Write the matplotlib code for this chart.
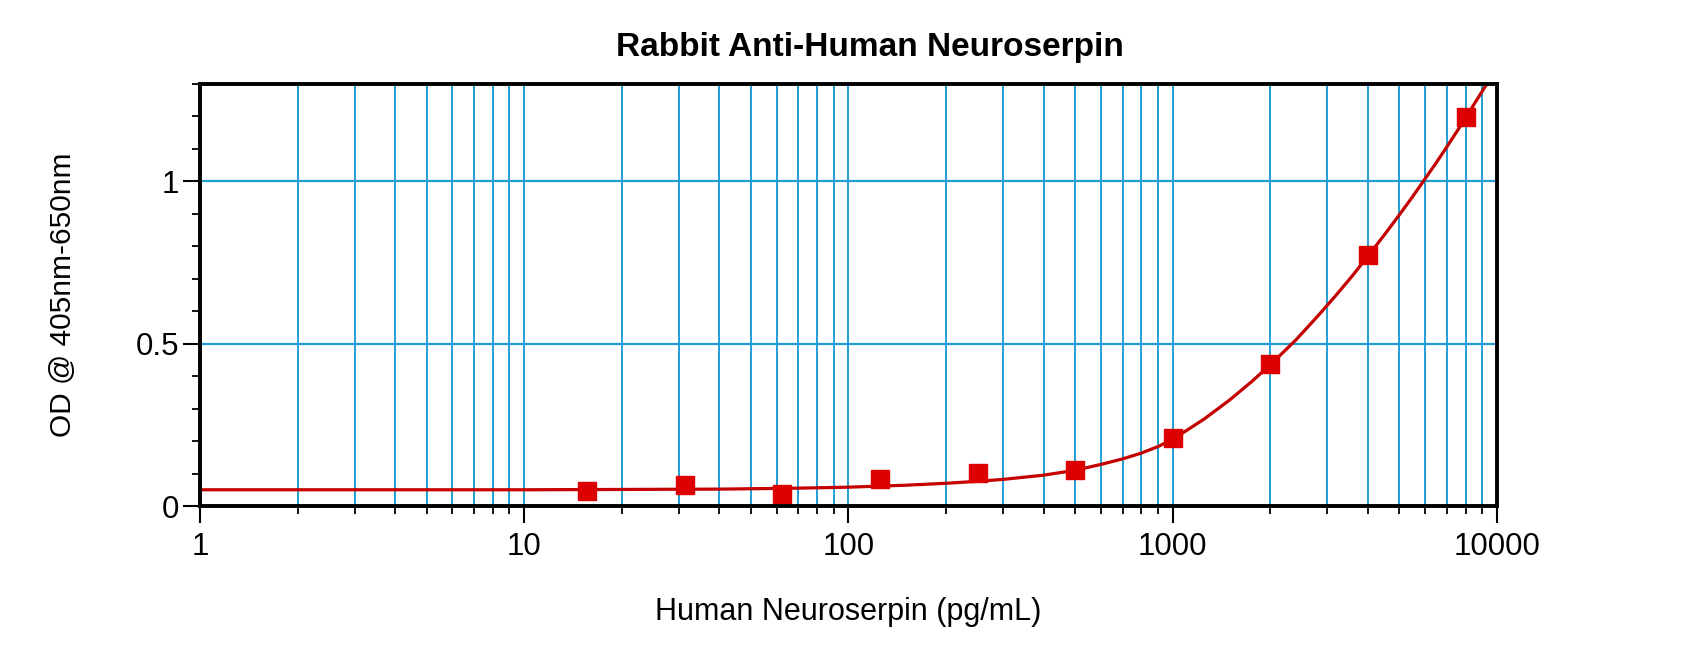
import matplotlib
matplotlib.use("Agg")
import matplotlib.pyplot as plt
from matplotlib.ticker import FixedLocator, MultipleLocator

plt.rcParams['font.family'] = ['Liberation Sans', 'DejaVu Sans']

# standards (pg/mL) and measured OD
conc = [15.625, 31.25, 62.5, 125, 250, 500, 1000, 2000, 4000, 8000]
od = [0.047, 0.065, 0.038, 0.082, 0.103, 0.11, 0.208, 0.437, 0.772, 1.198]

# fitted curve
curve_x = [1, 10, 20, 40, 70, 100, 150, 200, 250, 300, 400, 500, 600, 700,
           800, 900, 1000, 1250, 1500, 1750, 2000, 2400, 2800, 3200, 3600,
           4000, 4500, 5000, 5500, 6000, 6500, 7000, 7500, 8000, 8600, 9300]
curve_y = [0.05, 0.05, 0.051, 0.052, 0.055, 0.058, 0.064, 0.07, 0.076, 0.082,
           0.095, 0.11, 0.128, 0.145, 0.163, 0.183, 0.205, 0.268, 0.327,
           0.383, 0.435, 0.512, 0.585, 0.651, 0.712, 0.77, 0.836, 0.897,
           0.954, 1.008, 1.058, 1.106, 1.152, 1.195, 1.246, 1.30]

x_ticks = [1, 10, 100, 1000, 10000]
x_tick_labels = ['1', '10', '100', '1000', '10000']
y_ticks = [0, 0.5, 1]
y_tick_labels = ['0', '0.5', '1']

fig = plt.figure(figsize=(17, 6.45), dpi=100)
ax = fig.add_axes([0.1176, 0.2155, 0.763, 0.6543])

grid_color = '#1f9fd3'
ax.set_xscale('log')
ax.set_xlim(1, 10000)
ax.set_ylim(0, 1.3)

ax.plot(curve_x, curve_y, color='#c40000', lw=2.3, zorder=3)
ax.plot(conc, od, linestyle='none', marker='s', markersize=13,
        color='#dd0000', zorder=4)

ax.xaxis.set_major_locator(FixedLocator(x_ticks))
ax.set_xticklabels(x_tick_labels)
minor_x = [m * d for d in [1, 10, 100, 1000] for m in range(2, 10)]
ax.xaxis.set_minor_locator(FixedLocator(minor_x))
ax.xaxis.set_minor_formatter(plt.NullFormatter())
ax.set_yticks(y_ticks)
ax.set_yticklabels(y_tick_labels)
ax.yaxis.set_minor_locator(MultipleLocator(0.1))

ax.xaxis.grid(True, which='both', color=grid_color, lw=1.4)
ax.yaxis.grid(True, which='major', color=grid_color, lw=1.6)
ax.set_axisbelow(True)

for s in ax.spines.values():
    s.set_linewidth(2.8)
    s.set_color('black')
    s.set_zorder(5)

ax.tick_params(which='major', length=12, width=1.5, labelsize=22.5,
               top=False, right=False)
ax.tick_params(axis='x', which='major', pad=7)
ax.tick_params(axis='y', which='major', pad=3)
ax.tick_params(which='minor', length=6, width=1.3, top=False, right=False)

ax.set_xlabel('Human Neuroserpin (pg/mL)', fontsize=22, labelpad=25)
ax.set_ylabel('OD @ 405nm-650nm', fontsize=21.5, labelpad=42)
fig.text(0.512, 0.926, 'Rabbit Anti-Human Neuroserpin', fontsize=24,
         fontweight='bold', ha='center', va='center')

fig.savefig('out.png', dpi=100)
